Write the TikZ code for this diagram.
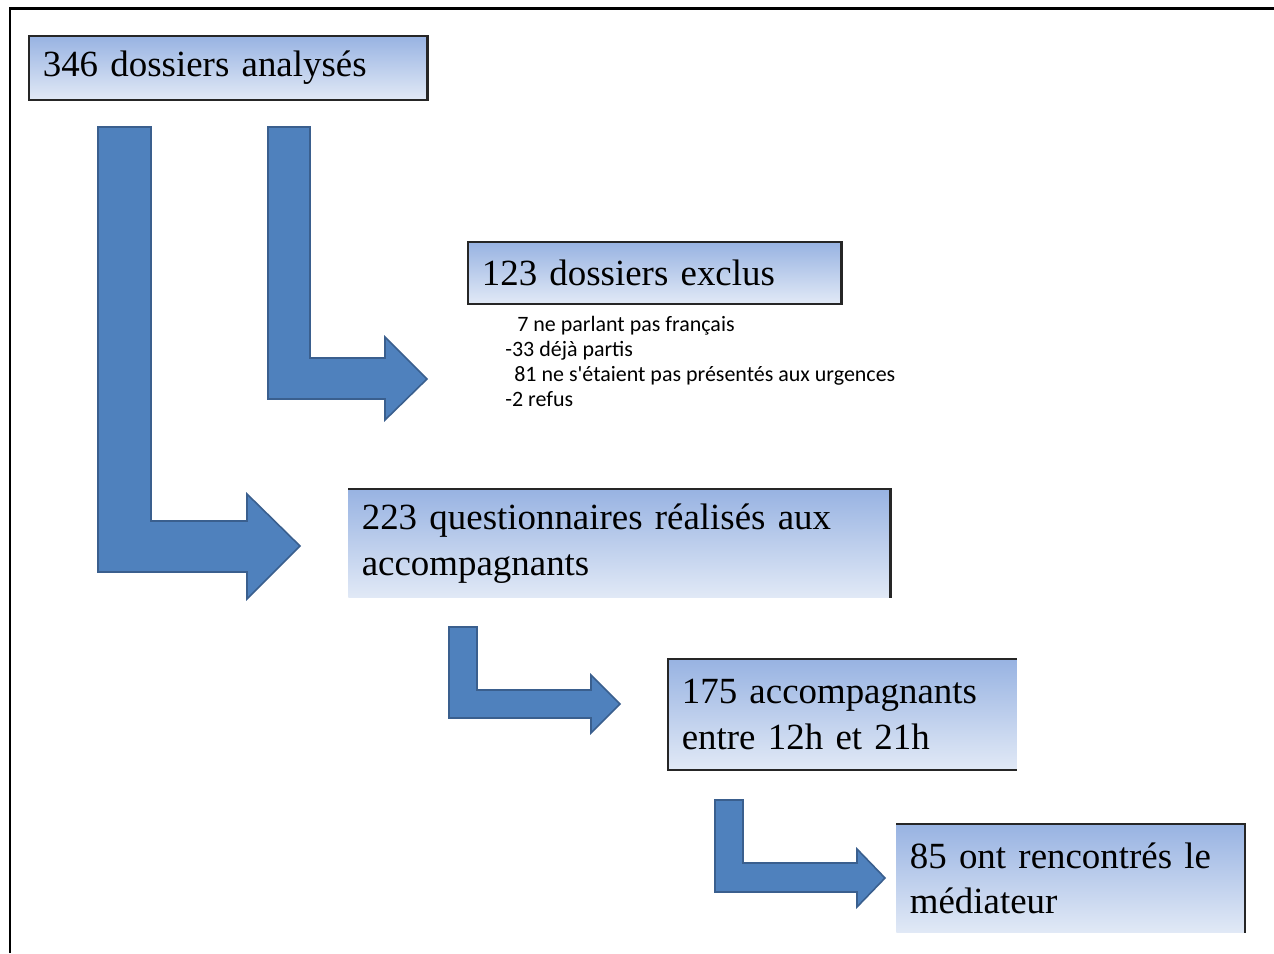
\documentclass[tikz,border=0pt]{standalone}
\usepackage{fontspec}
\setmainfont{Liberation Serif}
\newfontfamily\listfont{Carlito}
\usetikzlibrary{positioning}

\definecolor{arrowblue}{HTML}{4F81BD}
\definecolor{arrowedge}{HTML}{3A5F8E}
\definecolor{boxtop}{HTML}{98B3E2}
\definecolor{boxbottom}{HTML}{E1E9F6}

\begin{document}
\begin{tikzpicture}[x=0.02cm,y=-0.02cm,
  box/.style={anchor=north west,top color=boxtop,bottom color=boxbottom,
    inner xsep=0.27cm,inner ysep=0pt,align=left,
    font=\fontsize{21}{26}\selectfont},
  bigarrow/.style={fill=arrowblue,draw=arrowedge,line width=0.9pt,line join=miter},
  rim/.style={line width=1.3pt,draw=black!85}]
\useasboundingbox (0,0) rectangle (1274,953);

% frame
\draw[line width=0.06cm] (10,953) -- (10,9) -- (1274,9);

% boxes
\node[box,minimum width=7.96cm,minimum height=1.26cm,text width=7.42cm] (analyses) at (29,36) {346 dossiers analysés};
\node[box,minimum width=7.46cm,minimum height=1.22cm,text width=6.92cm] (exclus) at (468,242) {123 dossiers exclus};
\node[anchor=north west,align=left,inner sep=0pt,
  font=\listfont\fontsize{12.5}{14.2}\selectfont] (motifs) at (505,316)
  {\hspace{0.24cm}7 ne parlant pas français\\
   -33 déjà partis\\
   \hspace{0.18cm}81 ne s'étaient pas présentés aux urgences\\
   -2 refus};
\node[box,minimum width=10.84cm,minimum height=2.16cm,text width=10.3cm] (questionnaires) at (348,489) {223 questionnaires réalisés aux\\accompagnants};
\node[box,minimum width=6.96cm,minimum height=2.2cm,text width=6.42cm] (creneau) at (668,659) {175 accompagnants\\entre 12h et 21h};
\node[box,minimum width=6.96cm,minimum height=2.16cm,text width=6.42cm] (mediateur) at (896,824) {85 ont rencontrés le\\médiateur};

% borders
\draw[rim] (analyses.north west) rectangle (analyses.south east);
\draw[rim] (exclus.north west) rectangle (exclus.south east);
\draw[rim] (questionnaires.north west) -- (questionnaires.north east) -- (questionnaires.south east);
\draw[rim] (creneau.north east) -- (creneau.north west) -- (creneau.south west) -- (creneau.south east);
\draw[rim] (mediateur.north west) -- (mediateur.north east) -- (mediateur.south east);

% bent arrows
\draw[bigarrow] (98,127) -- (151,127) -- (151,521) -- (247,521) -- (247,494)
  -- (300,546) -- (247,599) -- (247,572) -- (98,572) -- cycle;
\draw[bigarrow] (268,127) -- (310,127) -- (310,358) -- (385,358) -- (385,337)
  -- (427,379) -- (385,420) -- (385,399) -- (268,399) -- cycle;
\draw[bigarrow] (449,627) -- (477,627) -- (477,690) -- (591,690) -- (591,675)
  -- (620,704) -- (591,733) -- (591,718) -- (449,718) -- cycle;
\draw[bigarrow] (715,800) -- (743,800) -- (743,863) -- (857,863) -- (857,849)
  -- (885,878) -- (857,907) -- (857,892) -- (715,892) -- cycle;
\end{tikzpicture}
\end{document}
